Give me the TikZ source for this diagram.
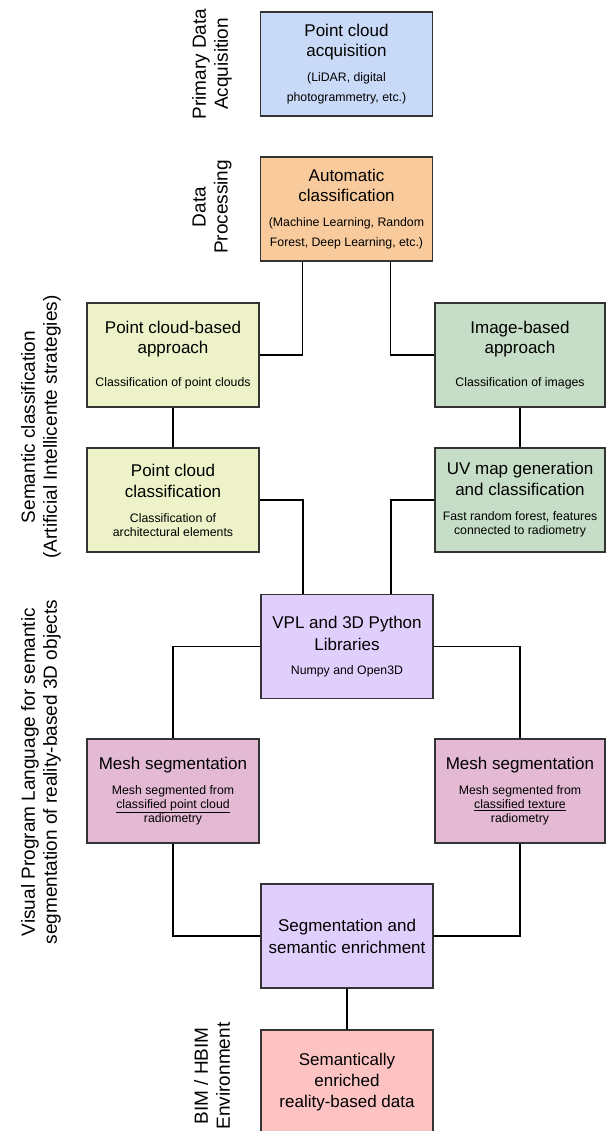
\documentclass[tikz,border=0pt]{standalone}
\usepackage{fontspec}
\setmainfont{Liberation Sans}
\definecolor{cblue}{HTML}{C9DAF8}
\definecolor{corange}{HTML}{F9CB9C}
\definecolor{cyellow}{HTML}{EEF2C8}
\definecolor{cgreen}{HTML}{C6DEC7}
\definecolor{cpurple}{HTML}{E0CFFC}
\definecolor{cmauve}{HTML}{E3B9D4}
\definecolor{cpink}{HTML}{FDC3C3}
\definecolor{cborder}{HTML}{333333}
\newcommand{\ttl}{\fontsize{17}{21}\selectfont}
\newcommand{\sbt}{\fontsize{12.3}{14}\selectfont}
\begin{document}
\begin{tikzpicture}[x=1pt,y=-1pt,
  box/.style={draw=cborder, line width=1.3pt, rectangle, align=center,
    minimum width=172pt, minimum height=104pt, inner sep=0pt, font=\ttl},
  sidelabel/.style={rotate=90, align=center, font=\fontsize{19}{22}\selectfont},
  conn/.style={draw=black, line width=1.3pt}]
\clip (0,0) rectangle (606,1131);
\fill[white] (0,0) rectangle (606,1131);

% side labels
\node[sidelabel] (lab1) at (212,64) {Primary Data\\Acquisition};
\node[sidelabel] (lab2) at (212,207) {Data\\Processing};
\node[sidelabel] (lab3) at (41,427) {Semantic classification\\(Artificial Intellicente strategies)};
\node[sidelabel] (lab4) at (41,772) {Visual Program Language for semantic\\segmentation of reality-based 3D objects};
\node[sidelabel] (lab5) at (212,1076) {BIM / HBIM\\Environment};

% boxes
\node[box, fill=cblue] (acq) at (346.5,64)
  {Point cloud\\[-1pt]acquisition\\[4pt]\sbt (LiDAR, digital\\[-1pt]\sbt photogrammetry, etc.)};
\node[box, fill=corange] (auto) at (346.5,209)
  {Automatic\\[-1pt]classification\\[4pt]\sbt (Machine Learning, Random\\[-1pt]\sbt Forest, Deep Learning, etc.)};
\node[box, fill=cyellow] (pcb) at (173,355)
  {Point cloud-based\\[-1pt]approach\\[12pt]\sbt Classification of point clouds};
\node[box, fill=cgreen, minimum width=170pt] (img) at (520,355)
  {Image-based\\[-1pt]approach\\[12pt]\sbt Classification of images};
\node[box, fill=cyellow] (pcc) at (173,500)
  {Point cloud\\classification\\[4pt]\sbt Classification of\\[-7pt]\sbt architectural elements};
\node[box, fill=cgreen, minimum width=170pt] (uv) at (520,500)
  {UV map generation\\and classification\\[4pt]\sbt Fast random forest, features\\[-7pt]\sbt connected to radiometry};
\node[box, fill=cpurple] (vpl) at (347,646.5)
  {VPL and 3D Python\\[1pt]Libraries\\[3pt]\sbt Numpy and Open3D};
\node[box, fill=cmauve] (mesh1) at (173,791)
  {\rule{0pt}{0pt}\\[-9pt]Mesh segmentation\\[4pt]\sbt Mesh segmented from\\[-7pt]\sbt \underline{classified point cloud}\\[-7pt]\sbt radiometry};
\node[box, fill=cmauve, minimum width=170pt] (mesh2) at (520,791)
  {\rule{0pt}{0pt}\\[-9pt]Mesh segmentation\\[4pt]\sbt Mesh segmented from\\[-7pt]\sbt \underline{classified texture}\\[-7pt]\sbt radiometry};
\node[box, fill=cpurple] (seg) at (347,936)
  {Segmentation and\\[1pt]semantic enrichment};
\node[box, fill=cpink] (final) at (347,1082)
  {Semantically\\enriched\\reality-based data};

% connectors
\draw[conn] ([xshift=-44pt]auto.south) |- (pcb.east);
\draw[conn] ([xshift=44pt]auto.south) |- (img.west);
\draw[conn] (pcb.south) -- (pcc.north);
\draw[conn] (img.south) -- (uv.north);
\draw[conn] (pcc.east) -| ([xshift=-44pt]vpl.north);
\draw[conn] (uv.west) -| ([xshift=44pt]vpl.north);
\draw[conn] (vpl.west) -| (mesh1.north);
\draw[conn] (vpl.east) -| (mesh2.north);
\draw[conn] (mesh1.south) |- (seg.west);
\draw[conn] (mesh2.south) |- (seg.east);
\draw[conn] (seg.south) -- (final.north);
\end{tikzpicture}
\end{document}
